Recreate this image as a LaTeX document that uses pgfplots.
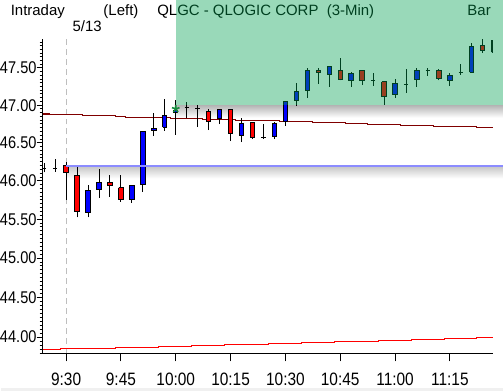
\documentclass[border=0pt]{standalone}
\usepackage{pgfplots}
\pgfplotsset{compat=1.18}
\usepackage{fontspec}
\setmainfont{Liberation Sans}
\newfontfamily\lblfont{Liberation Sans}[FakeStretch=0.86]
\newfontfamily\titlefont{Liberation Sans}
\definecolor{maroonline}{RGB}{128,0,0}
\definecolor{refblue}{RGB}{140,140,255}
\definecolor{upblue}{RGB}{0,0,255}
\definecolor{downred}{RGB}{255,0,0}
\definecolor{greenov}{RGB}{0,160,80}
\definecolor{dashgray}{RGB}{190,190,190}
\definecolor{stargreen}{RGB}{20,140,60}
\begin{document}
\begin{tikzpicture}
\begin{scope}[x=0.75pt,y=-0.75pt,yshift=294pt]
\path[use as bounding box, fill=white] (0,0) rectangle (504,392);
\fill[black!6] (0,389.5) rectangle (504,392);
% shadows
\shade[top color=black!28, bottom color=white] (175,106) rectangle (504,118);
\shade[top color=black!20, bottom color=white] (65.7,168) rectangle (504,179);
% title texts
\node[anchor=base west, inner sep=0pt] at (10,15.5) {\titlefont\fontsize{11.25}{13}\selectfont Intraday};
\node[anchor=base west, inner sep=0pt] at (103,15.5) {\titlefont\fontsize{11.25}{13}\selectfont (Left)};
\node[anchor=base west, inner sep=0pt] at (157,15.5) {\titlefont\fontsize{11.25}{13}\selectfont QLGC - QLOGIC CORP\ \ (3-Min)};
\node[anchor=base east, inner sep=0pt] at (492,15.5) {\titlefont\fontsize{11.25}{13}\selectfont Bar};
\node[anchor=base west, inner sep=0pt] at (72,32) {\titlefont\fontsize{11.25}{13}\selectfont 5/13};
\end{scope}

\begin{axis}[
  at={(31.725pt,27.75pt)}, anchor=south west,
  scale only axis, width=338.775pt, height=237pt,
  xmin=-6.4, xmax=116.8, ymin=43.792, ymax=47.896,
  ymode=log,
  clip=false,
  axis x line*=bottom, axis y line*=left,
  axis line style={black, line width=0.8pt},
  xtick=\empty,
  ytick={44,44.5,45,45.5,46,46.5,47,47.5},
  yticklabels={44.00,44.50,45.00,45.50,46.00,46.50,47.00,47.50},
  minor ytick={43.80,43.85,...,47.86},
  tick align=outside,
  major tick length=4.5pt, minor tick length=2.25pt,
  tick style={black, line width=0.75pt},
  yticklabel style={font=\lblfont\fontsize{12.75}{15}\selectfont, inner sep=0pt},
  /pgf/number format/assume math mode=true,
  unbounded coords=jump,
]
% 9:30 session divider
\draw[dashgray, line width=0.75pt, dash pattern=on 4.5pt off 3pt] (axis cs:0,43.792) -- (axis cs:0,47.896);
% lower red line
\addplot[const plot, downred, line width=0.75pt] coordinates {
(-6.4,43.850) (-1.55,43.863) (13.45,43.875) (25.4,43.888) (34.4,43.900) (43.4,43.913)
(55.5,43.925) (64.5,43.938) (73.4,43.950) (85.4,43.963) (94.4,43.975) (103.4,43.988)
(112.4,44.000) (116.8,44.000)};
% maroon line
\addplot[const plot, maroonline, line width=0.8pt] coordinates {
(-6.4,46.884) (-4.5,46.871) (4.5,46.857) (13.5,46.844) (16.2,46.830) (28.5,46.817)
(37.4,46.804) (46.4,46.790) (58.4,46.777) (67.4,46.764) (76.4,46.750) (82.4,46.737)
(91.4,46.724) (100.4,46.710) (112.4,46.697) (116.8,46.697)};
% wicks and doji ticks
\addplot[black, line width=0.75pt] coordinates {
(-6,46.11)(-6,46.24)(-6,nan)
(-3,46.12)(-3,46.28)(-3,nan)
(0,45.751)(0,46.252)(0,nan)
(3,45.522)(3,46.203)(3,nan)
(6,45.522)(6,45.942)(6,nan)
(9,45.782)(9,46.151)(9,nan)
(12,45.795)(12,46.072)(12,nan)
(15,45.730)(15,46.081)(15,nan)
(18,45.717)(18,45.938)(18,nan)
(21,45.855)(21,46.647)(21,nan)
(24,46.589)(24,46.898)(24,nan)
(27,46.660)(27,47.084)(27,nan)
(30,46.608)(30,47.066)(30,nan)
(33,46.824)(33,47.048)(33,nan)
(36,46.708)(36,47.004)(36,nan)
(39,46.668)(39,46.951)(39,nan)
(42,46.747)(42,46.938)(42,nan)
(45,46.522)(45,46.951)(45,nan)
(48,46.509)(48,46.832)(48,nan)
(51,46.549)(51,46.766)(51,nan)
(54,46.549)(54,46.753)(54,nan)
(57,46.549)(57,46.779)(57,nan)
(60,46.726)(60,47.044)(60,nan)
(63,46.991)(63,47.303)(63,nan)
(66,47.098)(66,47.500)(66,nan)
(69,47.286)(69,47.500)(69,nan)
(72,47.246)(72,47.527)(72,nan)
(75,47.334)(75,47.634)(75,nan)
(78,47.246)(78,47.446)(78,nan)
(81,47.273)(81,47.473)(81,nan)
(84,47.259)(84,47.433)(84,nan)
(87,47.004)(87,47.326)(87,nan)
(90,47.098)(90,47.353)(90,nan)
(93,47.165)(93,47.487)(93,nan)
(96,47.246)(96,47.500)(96,nan)
(99,47.393)(99,47.500)(99,nan)
(102,47.334)(102,47.487)(102,nan)
(105,47.259)(105,47.433)(105,nan)
(108,47.406)(108,47.554)(108,nan)
(111,47.433)(111,47.838)(111,nan)
(114,47.703)(114,47.895)(114,nan)
(-6.4,46.16)(-5.4,46.16)(0,nan)
(-3.6,46.16)(-2.4,46.16)(0,nan)
(32.4,46.967)(33.6,46.967)(0,nan)
(35.4,46.951)(36.6,46.951)(0,nan)
(53.4,46.576)(54.6,46.576)(0,nan)
(83.4,47.326)(84.6,47.326)(0,nan)
(92.4,47.273)(93.6,47.273)(0,nan)
(98.4,47.473)(99.6,47.473)(0,nan)
(107.4,47.446)(108.6,47.446)
};
% down bodies
\addplot[draw=black, fill=downred, line width=0.75pt] coordinates {
(-0.6,46.203)(0.6,46.203)(0.6,46.108)(-0.6,46.108)(-0.6,46.203)(0,nan)
(2.4,46.072)(3.6,46.072)(3.6,45.595)(2.4,45.595)(2.4,46.072)(3,nan)
(11.4,45.981)(12.6,45.981)(12.6,45.938)(11.4,45.938)(11.4,45.981)(12,nan)
(14.4,45.912)(15.6,45.912)(15.6,45.756)(14.4,45.756)(14.4,45.912)(15,nan)
(38.4,46.911)(39.6,46.911)(39.6,46.779)(38.4,46.779)(38.4,46.911)(39,nan)
(44.4,46.938)(45.6,46.938)(45.6,46.621)(44.4,46.621)(44.4,46.938)(45,nan)
(50.4,46.766)(51.6,46.766)(51.6,46.576)(50.4,46.576)(50.4,46.766)(51,nan)
(68.4,47.473)(69.6,47.473)(69.6,47.433)(68.4,47.433)(68.4,47.473)(69,nan)
(74.4,47.460)(75.6,47.460)(75.6,47.347)(74.4,47.347)(74.4,47.460)(75,nan)
(80.4,47.473)(81.6,47.473)(81.6,47.326)(80.4,47.326)(80.4,47.473)(81,nan)
(86.4,47.313)(87.6,47.313)(87.6,47.112)(86.4,47.112)(86.4,47.313)(87,nan)
(101.4,47.473)(102.6,47.473)(102.6,47.353)(101.4,47.353)(101.4,47.473)(102,nan)
(113.4,47.811)(114.6,47.811)(114.6,47.743)(113.4,47.743)(113.4,47.811)
};
% up bodies
\addplot[draw=black, fill=upblue, line width=0.75pt] coordinates {
(5.4,45.587)(6.6,45.587)(6.6,45.873)(5.4,45.873)(5.4,45.587)(6,nan)
(8.4,45.886)(9.6,45.886)(9.6,45.977)(8.4,45.977)(8.4,45.886)(9,nan)
(17.4,45.751)(18.6,45.751)(18.6,45.938)(17.4,45.938)(17.4,45.751)(18,nan)
(20.4,45.951)(21.6,45.951)(21.6,46.647)(20.4,46.647)(20.4,45.951)(21,nan)
(23.4,46.660)(24.6,46.660)(24.6,46.687)(23.4,46.687)(23.4,46.660)(24,nan)
(26.4,46.708)(27.6,46.708)(27.6,46.862)(26.4,46.862)(26.4,46.708)(27,nan)
(29.4,46.898)(30.6,46.898)(30.6,46.930)(29.4,46.930)(29.4,46.898)(30,nan)
(41.4,46.827)(42.6,46.827)(42.6,46.938)(41.4,46.938)(41.4,46.827)(42,nan)
(47.4,46.602)(48.6,46.602)(48.6,46.753)(47.4,46.753)(47.4,46.602)(48,nan)
(56.4,46.589)(57.6,46.589)(57.6,46.753)(56.4,46.753)(56.4,46.589)(57,nan)
(59.4,46.779)(60.6,46.779)(60.6,47.044)(59.4,47.044)(59.4,46.779)(60,nan)
(62.4,47.058)(63.6,47.058)(63.6,47.179)(62.4,47.179)(62.4,47.058)(63,nan)
(65.4,47.192)(66.6,47.192)(66.6,47.473)(65.4,47.473)(65.4,47.192)(66,nan)
(71.4,47.406)(72.6,47.406)(72.6,47.513)(71.4,47.513)(71.4,47.406)(72,nan)
(77.4,47.326)(78.6,47.326)(78.6,47.420)(77.4,47.420)(77.4,47.326)(78,nan)
(89.4,47.139)(90.6,47.139)(90.6,47.286)(89.4,47.286)(89.4,47.139)(90,nan)
(95.4,47.339)(96.6,47.339)(96.6,47.473)(95.4,47.473)(95.4,47.339)(96,nan)
(104.4,47.326)(105.6,47.326)(105.6,47.393)(104.4,47.393)(104.4,47.326)(105,nan)
(110.4,47.446)(111.6,47.446)(111.6,47.797)(110.4,47.797)(110.4,47.446)(111,nan)
(116.4,47.716)(116.8,47.716)(116.8,47.879)(116.4,47.879)(116.4,47.716)
};
% horizontal reference line
\addplot[refblue, line width=1.5pt] coordinates {(0,46.20) (119.54,46.20)};
% marker
\addplot[only marks, mark=star, mark size=3pt, stargreen, line width=1.2pt] coordinates {(30,46.95)};
% green highlighted zone
\fill[greenov, fill opacity=0.4] (axis cs:30,47) rectangle (axis cs:119.54,48.43);
\end{axis}

\begin{axis}[
  at={(31.725pt,27.75pt)}, anchor=south west,
  scale only axis, width=338.775pt, height=237pt,
  xmin=-6.4, xmax=116.8, ymin=43.792, ymax=47.896,
  ymode=log,
  axis x line*=bottom, axis y line=none,
  axis line style={black, line width=0.8pt},
  xtick={0,15,30,45,60,75,90,105},
  xticklabels={9:30,9:45,10:00,10:15,10:30,10:45,11:00,11:15},
  ytick=\empty,
  tick align=outside, major tick length=6pt,
  tick style={black, line width=0.75pt},
  xticklabel style={font=\lblfont\fontsize{13.5}{15}\selectfont, inner sep=0pt, yshift=-8.5pt},
]
\end{axis}
\end{tikzpicture}
\end{document}
